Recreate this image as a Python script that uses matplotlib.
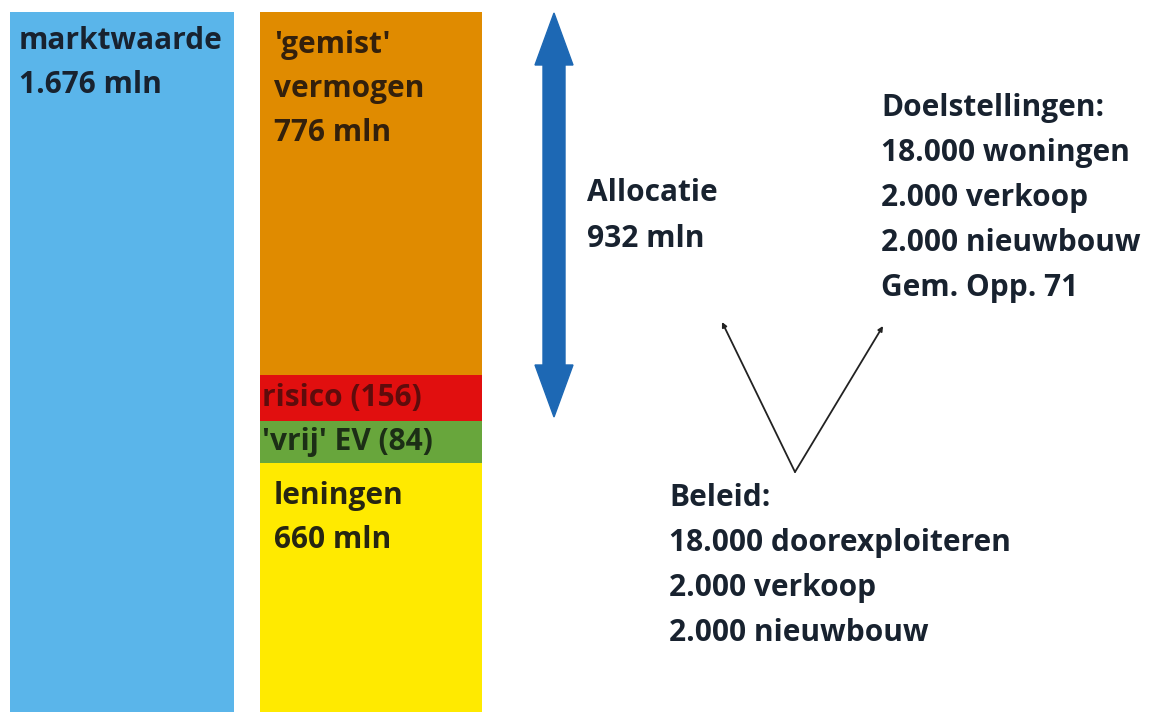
import matplotlib
matplotlib.use("Agg")
import matplotlib.pyplot as plt
import matplotlib.patches as mpatches

plt.rcParams["font.family"] = ["Open Sans", "DejaVu Sans"]

# segment heights as drawn in the picture (image pixels, bottom to top)
segments = ["leningen", "vrij EV", "risico", "gemist vermogen"]
seg_heights = [249, 42, 46, 363]
seg_colors = ["#ffea00", "#68a63c", "#e10f0f", "#e08b00"]
seg_labels = [["leningen", "660 mln"], ["'vrij' EV (84)"], ["risico (156)"],
              ["'gemist'", "vermogen", "776 mln"]]
seg_text_colors = ["#262512", "#1c2e16", "#5e0c0c", "#33200c"]

total_height = sum(seg_heights)
total_label = ["marktwaarde", "1.676 mln"]

allocatie = ["Allocatie", "932 mln"]
doelstellingen = ["Doelstellingen:", "18.000 woningen", "2.000 verkoop",
                  "2.000 nieuwbouw", "Gem. Opp. 71"]
beleid = ["Beleid:", "18.000 doorexploiteren", "2.000 verkoop", "2.000 nieuwbouw"]

W, H = 1149, 712
fig = plt.figure(figsize=(W / 100, H / 100), dpi=100)
ax = fig.add_axes([0, 0, 1, 1])
ax.set_xlim(0, W)
ax.set_ylim(0, H)
ax.axis("off")

fs = 21.5
line = 44
dark = "#18222f"

# left bar
ax.bar(122, total_height, width=224, bottom=0, color="#5ab5ea")
for i, t in enumerate(total_label):
    ax.text(19, H - 41 - i * line, t, fontsize=fs, fontweight="bold",
            color=dark, va="center", ha="left")

# right stacked bar
bottom = 0
for h, c, labs, tc in zip(seg_heights, seg_colors, seg_labels, seg_text_colors):
    ax.bar(371, h, width=222, bottom=bottom, color=c)
    if len(labs) == 1:
        ax.text(262, bottom + h / 2, labs[0], fontsize=fs, fontweight="bold",
                color=tc, va="center", ha="left")
    else:
        top = bottom + h
        for i, t in enumerate(labs):
            ax.text(274, top - 33 - i * line, t, fontsize=fs, fontweight="bold",
                    color=tc, va="center", ha="left")
    bottom += h

# double arrow
cx, ytop, ybot = 554, H - 13, H - 417
hl, hw, sw = 52, 19, 11
pts = [(cx, ytop), (cx + hw, ytop - hl), (cx + sw, ytop - hl), (cx + sw, ybot + hl),
       (cx + hw, ybot + hl), (cx, ybot), (cx - hw, ybot + hl), (cx - sw, ybot + hl),
       (cx - sw, ytop - hl), (cx - hw, ytop - hl)]
ax.add_patch(mpatches.Polygon(pts, closed=True, color="#1d68b4"))

for i, t in enumerate(allocatie):
    ax.text(587, H - 193 - i * 46, t, fontsize=fs, fontweight="bold",
            color=dark, va="center", ha="left")

for i, t in enumerate(doelstellingen):
    ax.text(881, H - 108 - i * 45, t, fontsize=fs, fontweight="bold",
            color=dark, va="center", ha="left")

for i, t in enumerate(beleid):
    ax.text(669, H - 498 - i * 45, t, fontsize=fs, fontweight="bold",
            color=dark, va="center", ha="left")

# V shaped arrows
vx, vy = 795, H - 472
for tx, ty in [(722, H - 322), (883, H - 326)]:
    ax.annotate("", xy=(tx, ty), xytext=(vx, vy),
                arrowprops=dict(arrowstyle="-|>", color="#222222", lw=1.3,
                                mutation_scale=7, shrinkA=0, shrinkB=0))

fig.savefig("out.png", dpi=100)
